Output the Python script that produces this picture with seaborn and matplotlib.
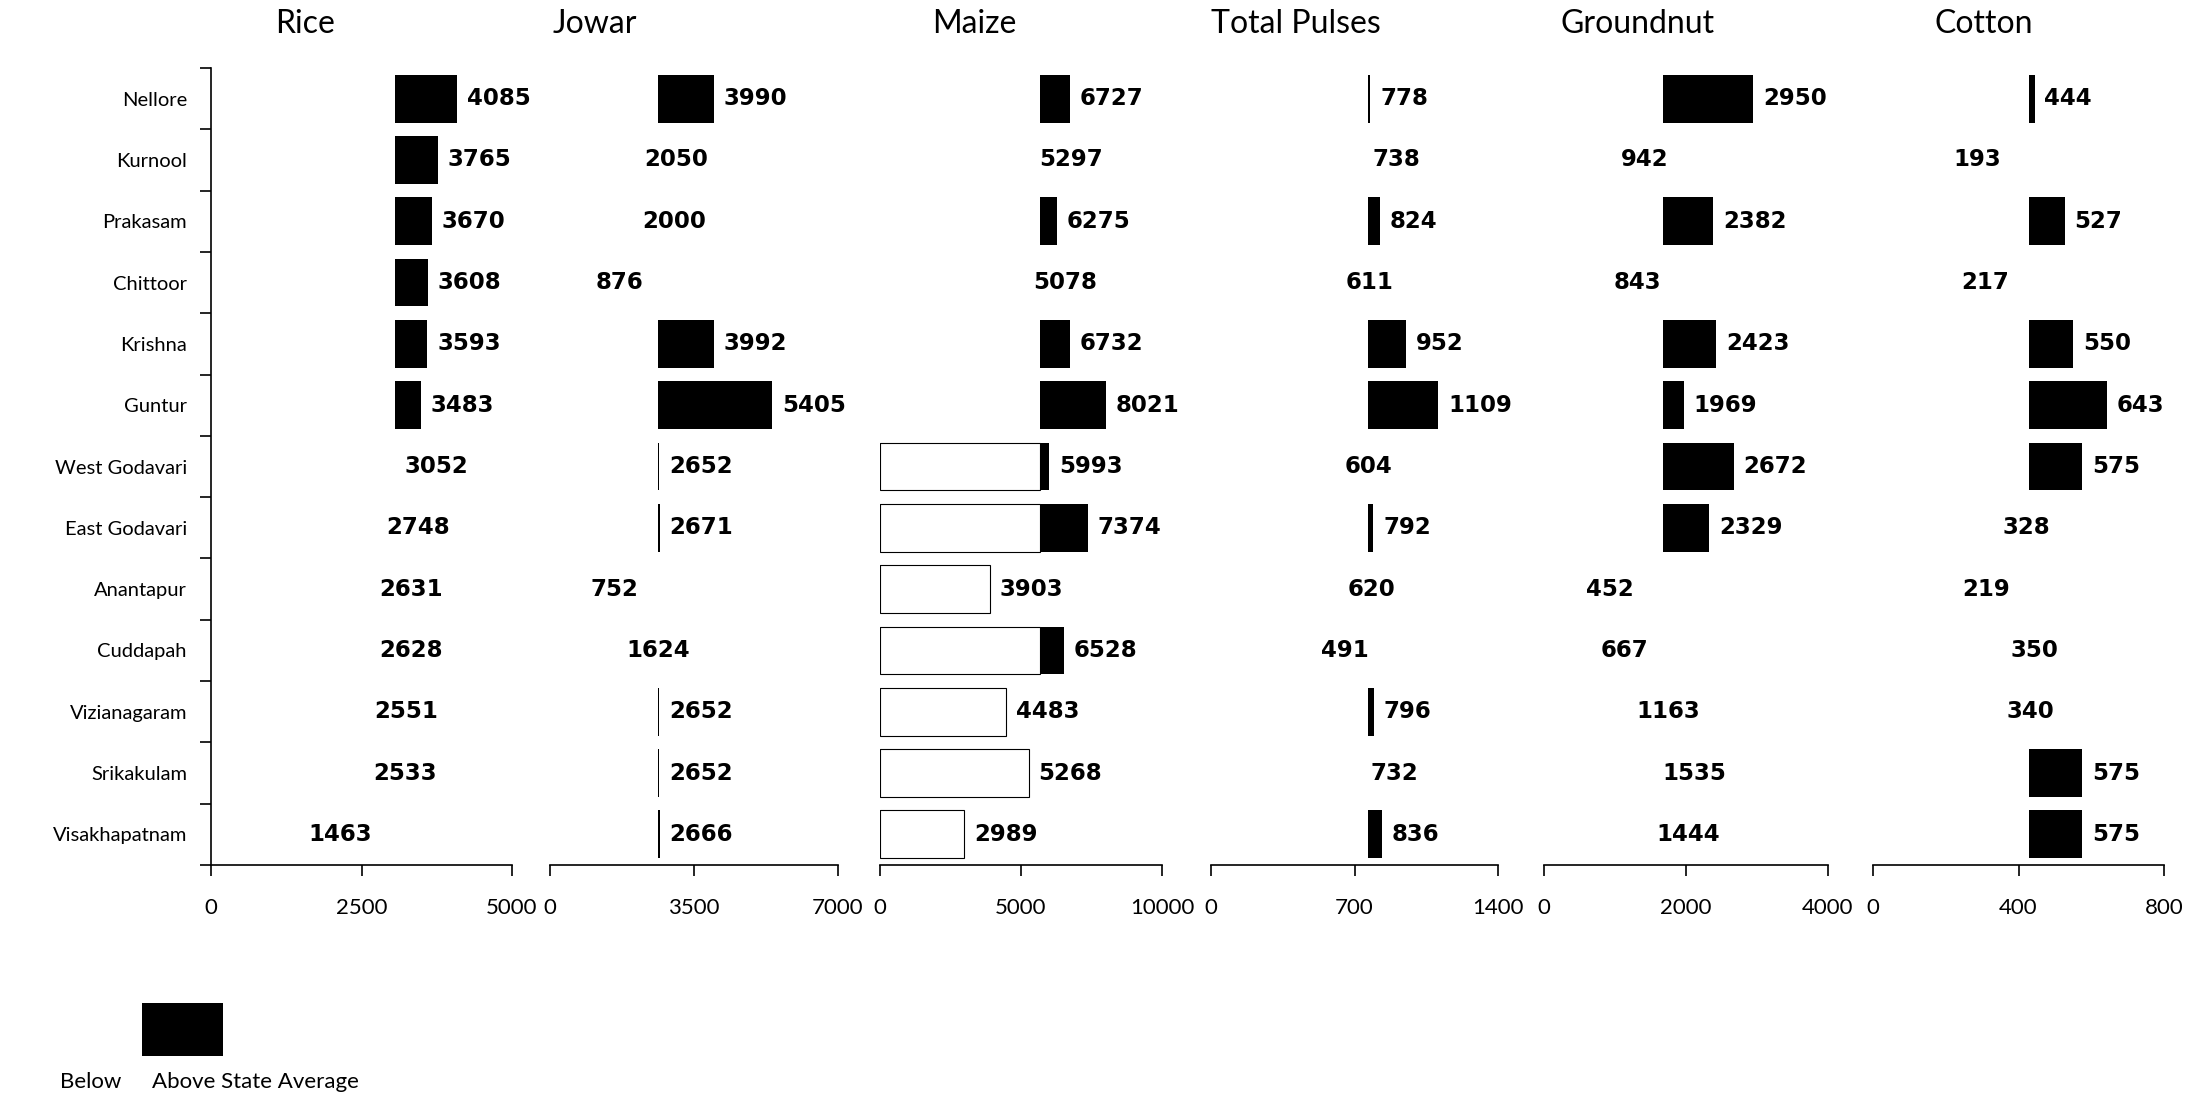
import matplotlib
matplotlib.use("Agg")
import matplotlib.pyplot as plt
from matplotlib.patches import Rectangle
import numpy as np
import pandas as pd
import seaborn as sns

districts = ['Nellore', 'Kurnool', 'Prakasam', 'Chittoor', 'Krishna', 'Guntur',
             'West Godavari', 'East Godavari', 'Anantapur', 'Cuddapah',
             'Vizianagaram', 'Srikakulam', 'Visakhapatnam']
rice = [4085, 3765, 3670, 3608, 3593, 3483, 3052, 2748, 2631, 2628, 2551, 2533, 1463]
jowar = [3990, 2050, 2000, 876, 3992, 5405, 2652, 2671, 752, 1624, 2652, 2652, 2666]
maize = [6727, 5297, 6275, 5078, 6732, 8021, 5993, 7374, 3903, 6528, 4483, 5268, 2989]
pulses = [778, 738, 824, 611, 952, 1109, 604, 792, 620, 491, 796, 732, 836]
groundnut = [2950, 942, 2382, 843, 2423, 1969, 2672, 2329, 452, 667, 1163, 1535, 1444]
cotton = [444, 193, 527, 217, 550, 643, 575, 328, 219, 350, 340, 575, 575]

crops = ['Rice', 'Jowar', 'Maize', 'Total Pulses', 'Groundnut', 'Cotton']
yields = [rice, jowar, maize, pulses, groundnut, cotton]
state_avg = [3055, 2620, 5690, 765, 1670, 428]
x_max = [5000, 7000, 10000, 1400, 4000, 800]

# the maize panel shows outlines round the hidden part of these bars
maize_outlined = ['West Godavari', 'East Godavari', 'Anantapur', 'Cuddapah',
                  'Vizianagaram', 'Srikakulam', 'Visakhapatnam']

sns.set_style('white')
plt.rcParams['font.family'] = ['Lato', 'DejaVu Sans']
plt.rcParams['text.color'] = 'black'
plt.rcParams['xtick.color'] = 'black'
plt.rcParams['ytick.color'] = 'black'

W, H = 2203, 1093
fig = plt.figure(figsize=(W / 100, H / 100), dpi=100)

# panel extents in pixels
panel_x = [(211, 512), (550, 838), (880, 1162), (1211, 1498), (1544, 1828), (1873, 2164)]
title_x = [275, 553, 932, 1211, 1560, 1935]
top, bottom = 68, 865

for i, (crop, vals) in enumerate(zip(crops, yields)):
    x0, x1 = panel_x[i]
    ax = fig.add_axes([x0 / W, 1 - bottom / H, (x1 - x0) / W, (bottom - top) / H])
    df = pd.DataFrame({'district': districts, 'value': vals})
    df['base'] = np.minimum(df['value'], state_avg[i])

    # black bar to the value, white bar over it up to the state average
    sns.barplot(data=df, x='value', y='district', order=districts, color='black',
                saturation=1, width=0.78, linewidth=0, errorbar=None, ax=ax)
    sns.barplot(data=df, x='base', y='district', order=districts, color='white',
                saturation=1, width=0.78, linewidth=0, errorbar=None, ax=ax)

    if crop == 'Maize':
        for bar, d in zip(ax.containers[-1], districts):
            if d in maize_outlined:
                bar.set_edgecolor('black')
                bar.set_linewidth(0.8)

    for j, v in enumerate(vals):
        ax.annotate(str(v), (v, j), xytext=(7, 0), textcoords='offset points',
                    va='center', ha='left', fontsize=16.5, fontweight='bold',
                    family='DejaVu Sans', color='black')

    ax.set_xlim(0, x_max[i])
    ax.set_ylim(len(districts) - 0.5, -0.5)
    ax.set_xticks([0, x_max[i] // 2, x_max[i]])
    ax.set_xticklabels([str(t) for t in [0, x_max[i] // 2, x_max[i]]])
    ax.set_xlabel('')
    ax.set_ylabel('')
    sns.despine(ax=ax, top=True, right=True, left=(i > 0))
    for s in ['left', 'bottom']:
        ax.spines[s].set_color('black')
        ax.spines[s].set_linewidth(1.2)
    ax.tick_params(axis='x', bottom=True, length=8, width=1.2, pad=16,
                   labelsize=16, direction='out', color='black', labelcolor='black')

    if i == 0:
        ax.set_yticks(np.arange(len(districts) + 1) - 0.5, minor=True)
        ax.tick_params(axis='y', which='major', left=True, length=0, pad=17.3,
                       labelsize=14.5, labelcolor='black')
        ax.tick_params(axis='y', which='minor', left=True, length=8, width=1.2,
                       direction='out', color='black')
    else:
        ax.set_yticks([])

    fig.text(title_x[i] / W, 1 - 33 / H, crop, fontsize=23, ha='left', va='baseline')

# legend
fig.add_artist(Rectangle((142 / W, 1 - 1056 / H), 81 / W, 53 / H,
                         transform=fig.transFigure, facecolor='black', edgecolor='none'))
fig.text(60 / W, 1 - 1082 / H, 'Below', fontsize=16, va='center', ha='left')
fig.text(152 / W, 1 - 1082 / H, 'Above State Average', fontsize=16, va='center', ha='left')

fig.savefig('out.png', dpi=100)
